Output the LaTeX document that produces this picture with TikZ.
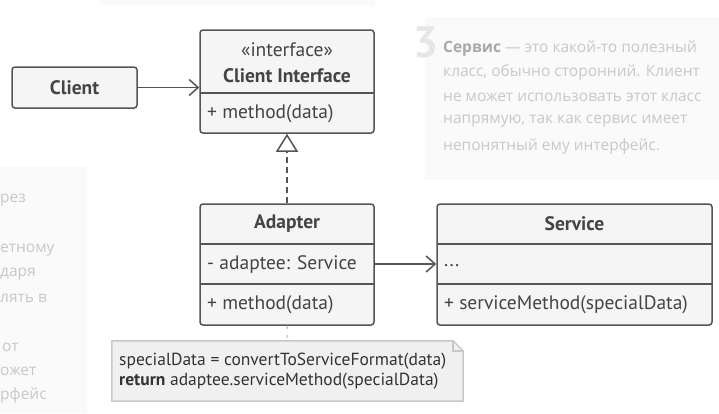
\documentclass[tikz,border=0pt]{standalone}
\usepackage{fontspec}
\setmainfont{PT Sans}
\newfontfamily\panelfont{Open Sans}
\usepackage{xcolor}
\usetikzlibrary{arrows.meta,calc,positioning}

\definecolor{linegray}{HTML}{555555}
\definecolor{textgray}{HTML}{444444}
\definecolor{boxfill}{HTML}{F5F5F5}
\definecolor{panelfill}{HTML}{FAFAFA}
\definecolor{paneltext}{HTML}{C8C8C8}
\definecolor{panelbold}{HTML}{A8A8A8}
\definecolor{panelnum}{HTML}{E6E6E6}
\definecolor{notefill}{HTML}{F0F0F0}
\definecolor{noteline}{HTML}{C8C8C8}

\begin{document}
\begin{tikzpicture}[x=1pt, y=-1pt, font=\fontsize{19.5}{23}\selectfont, text=textgray,
  classbox/.style={draw=linegray, line width=1.5pt, fill=boxfill, rounded corners=3pt, inner sep=0pt},
  divider/.style={draw=linegray, line width=1.5pt},
  member/.style={anchor=west, inner sep=0pt},
  assoc/.style={draw=linegray, line width=1.5pt, -{Straight Barb[length=9pt, width=16pt, line width=1.5pt]}},
  realize/.style={draw=linegray, line width=1.5pt, dash pattern=on 6pt off 4pt,
    -{Triangle[open, length=18pt, width=22pt, line width=1.5pt]}},
  paneltxt/.style={anchor=west, inner sep=0pt, text=paneltext, font=\panelfont\fontsize{15.5}{19}\selectfont}]
  \useasboundingbox (0,0) rectangle (719,413);

  % faint side panels
  \fill[panelfill] (100,0) rectangle (375,5);
  \fill[panelfill] (0,167) rectangle (87,413);
  \fill[panelfill] (425,17) rectangle (719,180);

  % left panel text, cut off by the edge
  \node[paneltxt] (l1) at (0,200) {рез};
  \node[paneltxt] (l2) at (0,250) {етному};
  \node[paneltxt] (l3) at (0,274) {даря};
  \node[paneltxt] (l4) at (0,298) {лять в};
  \node[paneltxt] (l5) at (2,347) {от};
  \node[paneltxt] (l6) at (0,371) {ожет};
  \node[paneltxt] (l7) at (0,395) {рфейс};

  % right panel: number and text
  \node[anchor=north west, inner sep=0pt, text=panelnum] (num) at (413,26)
    {\fontsize{44}{44}\selectfont\bfseries 3};
  \node[paneltxt] (r1) at (443,48) {\textcolor{panelbold}{\bfseries Сервис} — это какой-то полезный};
  \node[paneltxt] (r2) at (443,72) {класс, обычно сторонний. Клиент};
  \node[paneltxt] (r3) at (443,97) {не может использовать этот класс};
  \node[paneltxt] (r4) at (443,121) {напрямую, так как сервис имеет};
  \node[paneltxt] (r5) at (443,146) {непонятный ему интерфейс.};

  % Client
  \node[classbox, minimum width=125, minimum height=41] (client) at (74.5,87.5) {\bfseries Client};

  % Client Interface
  \node[classbox, minimum width=174, minimum height=103] (iface) at (287,81.5) {};
  \node (ifacestereo) at (287,50) {«interface»};
  \node (ifacename) at (287,76) {\bfseries Client Interface};
  \draw[divider] (200,93) -- (374,93);
  \node[member] (ifacemethod) at (207,114) {+ method(data)};

  % Adapter
  \node[classbox, minimum width=174, minimum height=121] (adapter) at (287,264.5) {};
  \node (adaptername) at (287,224) {\bfseries Adapter};
  \draw[divider] (200,244) -- (374,244);
  \node[member] (adapterfield) at (207,264) {- adaptee: Service};
  \draw[divider] (200,284) -- (374,284);
  \node[member] (adaptermethod) at (207,305) {+ method(data)};

  % Service
  \node[classbox, minimum width=275, minimum height=121] (service) at (574.5,264.5) {};
  \node (servicename) at (574.5,224) {\bfseries Service};
  \draw[divider] (437,244) -- (712,244);
  \node[member] (servicefield) at (444,266) {...};
  \draw[divider] (437,284) -- (712,284);
  \node[member] (servicemethod) at (444,305) {+ serviceMethod(specialData)};

  % connectors
  \draw[assoc] (client.east) -- (iface.west |- client.east);
  \draw[realize] (adapter.north) -- (iface.south);
  \draw[assoc] (adapter.east |- adapterfield) -- (service.west |- adapterfield);

  % note for method(data)
  \node[minimum width=351, minimum height=60, inner sep=0pt] (note) at (287.5,371) {};
  \fill[notefill, draw=noteline, line width=1.5pt] (note.north west) -- ($(note.north east)+(-10,0)$)
    -- ($(note.north east)+(0,10)$) -- (note.south east) -- (note.south west) -- cycle;
  \draw[noteline, line width=1.5pt] ($(note.north east)+(-10,0)$) -- ($(note.north east)+(-10,10)$) -- ($(note.north east)+(0,10)$);
  \node[member, font=\fontsize{17.5}{20}\selectfont, text=black!80] (notetext) at (119,371)
    {\begin{tabular}{@{}l@{}}specialData = convertToServiceFormat(data)\\
     \bfseries return\mdseries{} adaptee.serviceMethod(specialData)\end{tabular}};
  \draw[noteline, line width=1.5pt, dash pattern=on 3pt off 6pt] (adapter.south) -- (note.north);
\end{tikzpicture}
\end{document}
